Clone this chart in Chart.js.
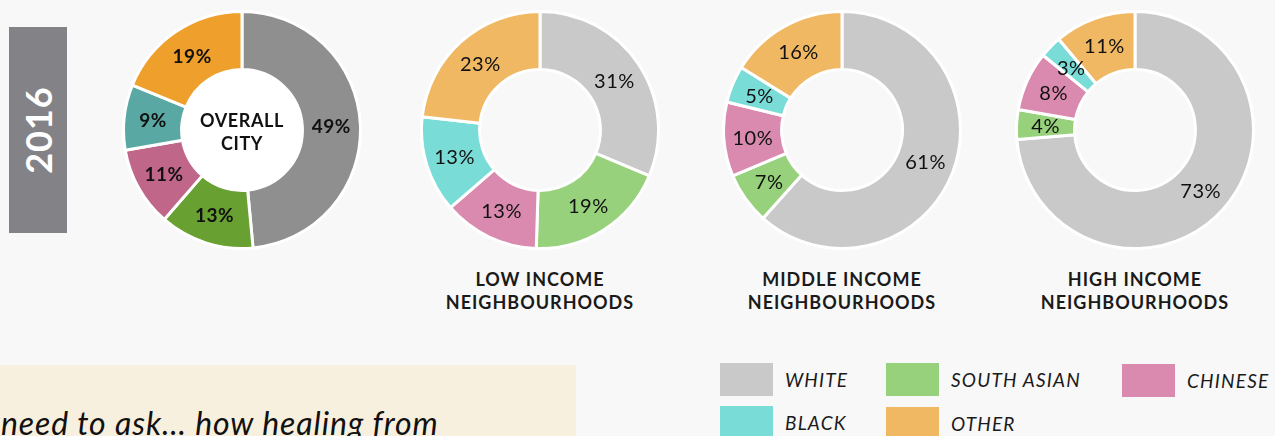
<!DOCTYPE html>
<html>
<head>
<meta charset="utf-8">
<script src="https://cdn.jsdelivr.net/npm/chart.js@4.4.1/dist/chart.umd.min.js"></script>
<style>
  html, body { margin: 0; padding: 0; }
  body {
    width: 1275px; height: 436px; overflow: hidden; position: relative;
    background: #f8f8f8; font-family: Lato, "Open Sans", sans-serif; color: #1a1a1a;
  }
  .year {
    position: absolute; left: 9px; top: 27px; width: 58px; height: 206px;
    background: #838387;
  }
  .year span {
    position: absolute; left: 50%; top: 50%;
    transform: translate(-50%, -50%) rotate(-90deg);
    color: #fff; font-size: 36px; font-weight: 700; letter-spacing: 1px;
  }
  canvas.donut { position: absolute; top: 10px; }
  .title {
    position: absolute; top: 268px; width: 240px; text-align: center;
    font-size: 18px; font-weight: 700; line-height: 23px; letter-spacing: 1px;
  }
  .quote {
    position: absolute; left: 0; top: 365px; width: 576px; height: 80px;
    background: #f8f0df; overflow: hidden;
  }
  .quote span {
    position: absolute; left: 1px; top: 38px; white-space: nowrap; color: #111;
    font-style: italic; font-weight: 400; font-size: 32px; letter-spacing: 0.9px;
  }
  .legend { position: absolute; font-style: italic; font-size: 19px; letter-spacing: 1.2px; }
  .legend i { position: absolute; width: 53px; height: 33px; }
  .legend b { position: absolute; font-weight: 400; white-space: nowrap; line-height: 33px; }
</style>
</head>
<body>
<div class="year"><span>2016</span></div>

<canvas id="overall" class="donut" width="240" height="240" style="left:122px"></canvas>
<canvas id="low" class="donut" width="240" height="240" style="left:420px"></canvas>
<canvas id="middle" class="donut" width="240" height="240" style="left:722px"></canvas>
<canvas id="high" class="donut" width="240" height="240" style="left:1015px"></canvas>

<div class="title" style="left:420px">LOW INCOME<br>NEIGHBOURHOODS</div>
<div class="title" style="left:722px">MIDDLE INCOME<br>NEIGHBOURHOODS</div>
<div class="title" style="left:1015px">HIGH INCOME<br>NEIGHBOURHOODS</div>

<div class="quote"><span>need to ask… how healing from</span></div>

<div class="legend" id="legend"></div>

<script>
// categories, clockwise from 12 o'clock
const categories = ['WHITE', 'SOUTH ASIAN', 'CHINESE', 'BLACK', 'OTHER'];

// share of each group (%)
const overallCity = [49, 13, 11, 9, 19];
const lowIncome = [31, 19, 13, 13, 23];
const middleIncome = [61, 7, 10, 5, 16];
const highIncome = [73, 4, 8, 3, 11];

const lightColors = ['#c9c9c9', '#97d17b', '#da8aae', '#79dcd6', '#f0b862'];
const darkColors = ['#8f8f8f', '#68a131', '#c06688', '#5aa8a3', '#ef9f2b'];

// writes the % on each slice + the centre text for the overall chart
const sliceLabels = {
  id: 'sliceLabels',
  afterDatasetsDraw(chart, args, opts) {
    const ctx = chart.ctx;
    const meta = chart.getDatasetMeta(0);
    const data = chart.data.datasets[0].data;
    ctx.save();
    ctx.textAlign = 'center';
    ctx.textBaseline = 'middle';
    if (opts.centerText) {
      const arc = meta.data[0];
      ctx.beginPath();
      ctx.arc(arc.x, arc.y, arc.innerRadius - 1, 0, Math.PI * 2);
      ctx.fillStyle = '#ffffff';
      ctx.fill();
      ctx.fillStyle = '#111';
      ctx.font = 'bold 18px Lato';
      ctx.letterSpacing = '0.6px';
      ctx.fillText(opts.centerText[0], arc.x, arc.y - 9);
      ctx.fillText(opts.centerText[1], arc.x, arc.y + 14);
    }
    ctx.fillStyle = '#111';
    ctx.font = (opts.bold ? 'bold 19px' : '20px') + ' Lato';
    ctx.letterSpacing = '0.5px';
    meta.data.forEach((arc, i) => {
      const p = arc.tooltipPosition();
      ctx.fillText(data[i] + '%', p.x, p.y + 1);
    });
    ctx.restore();
  }
};

function makeDonut(id, values, colors, labelOpts) {
  return new Chart(document.getElementById(id), {
    type: 'doughnut',
    data: {
      labels: categories,
      datasets: [{
        data: values,
        backgroundColor: colors,
        borderColor: '#ffffff',
        borderWidth: 3
      }]
    },
    options: {
      responsive: false,
      animation: false,
      cutout: '51%',
      plugins: {
        legend: { display: false },
        tooltip: { enabled: false },
        sliceLabels: labelOpts
      }
    },
    plugins: [sliceLabels]
  });
}

makeDonut('overall', overallCity, darkColors, { bold: true, centerText: ['OVERALL', 'CITY'] });
makeDonut('low', lowIncome, lightColors, {});
makeDonut('middle', middleIncome, lightColors, {});
makeDonut('high', highIncome, lightColors, {});

// legend built from the categories
const legendPos = [[720, 363], [886, 363], [1122, 364], [720, 406], [886, 407]];
const legend = document.getElementById('legend');
categories.forEach((c, i) => {
  const [x, y] = legendPos[i];
  const sw = document.createElement('i');
  sw.style.left = x + 'px'; sw.style.top = y + 'px';
  sw.style.background = lightColors[i];
  const t = document.createElement('b');
  t.textContent = c;
  t.style.left = (x + 65) + 'px'; t.style.top = y + 'px';
  legend.appendChild(sw);
  legend.appendChild(t);
});
</script>
</body>
</html>
